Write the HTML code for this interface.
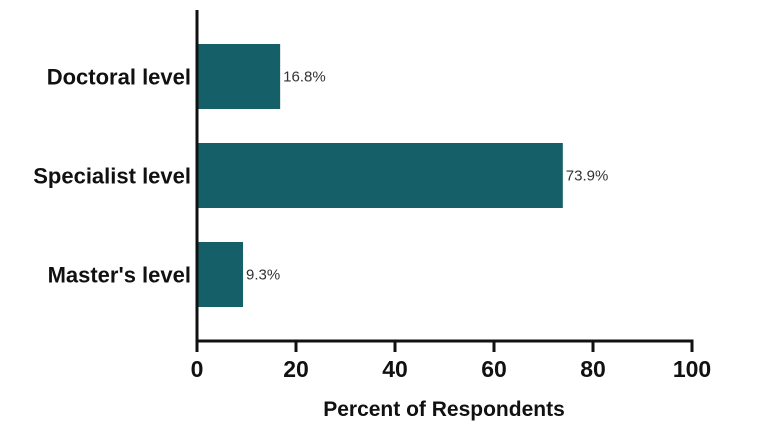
<!DOCTYPE html>
<html><head><meta charset="utf-8"><style>
html,body{margin:0;padding:0;background:#fff;}
svg{display:block;font-family:"Liberation Sans",Arial,sans-serif;}
</style></head><body>
<svg id="chart" width="766" height="436" viewBox="0 0 766 436">
<g id="bars"></g>
<g id="axes"></g>
<text x="444" y="416" text-anchor="middle" font-size="21" font-weight="bold" fill="#111">Percent of Respondents</text>
</svg>
<script>
const categories = ["Doctoral level", "Specialist level", "Master's level"];
const values = [16.8, 73.9, 9.3];
const valueLabels = ["16.8%", "73.9%", "9.3%"];
const xTicks = [0, 20, 40, 60, 80, 100];

const NS = "http://www.w3.org/2000/svg";
const x0 = 197, x1 = 692, axisY = 341, axisTop = 10;
const xScale = v => x0 + (v - 0) / (100 - 0) * (x1 - x0);
const bandTop = 27, band = 99, barH = 65;
const yScale = i => bandTop + i * band + (band - barH) / 2;

const bars = document.getElementById('bars');
const axes = document.getElementById('axes');
function mk(tag, attrs, parent) {
  const e = document.createElementNS(NS, tag);
  for (const k in attrs) e.setAttribute(k, attrs[k]);
  parent.appendChild(e);
  return e;
}
categories.forEach((c, i) => {
  const y = yScale(i);
  const r = mk('rect', {x: x0, y: y, width: xScale(values[i]) - x0, height: barH, fill: '#155f69'}, bars);
  
  
  const t = mk('text', {x: xScale(values[i]) + 3, y: y + barH / 2 + 5, 'font-size': 15, fill: '#333'}, bars);
  t.textContent = valueLabels[i];
  
  
  const l = mk('text', {x: 191, y: y + barH / 2 + 8, 'font-size': 22, 'font-weight': 'bold', 'text-anchor': 'end', fill: '#111'}, axes);
  l.textContent = c;
  
  
});
const ya = mk('line', {x1: x0, y1: axisTop, x2: x0, y2: axisY + 1.5, stroke: '#111', 'stroke-width': 3}, axes);


const xa = mk('line', {x1: x0 - 1.5, y1: axisY, x2: x1 + 1.5, y2: axisY, stroke: '#111', 'stroke-width': 3}, axes);


xTicks.forEach(v => {
  const x = xScale(v);
  const tk = mk('line', {x1: x, y1: axisY, x2: x, y2: axisY + 11, stroke: '#111', 'stroke-width': 3}, axes);
  
  
  const tl = mk('text', {x: x, y: 377, 'font-size': 23, 'font-weight': 'bold', 'text-anchor': 'middle', fill: '#111'}, axes);
  tl.textContent = v;
  
  
});
</script>
</body></html>
